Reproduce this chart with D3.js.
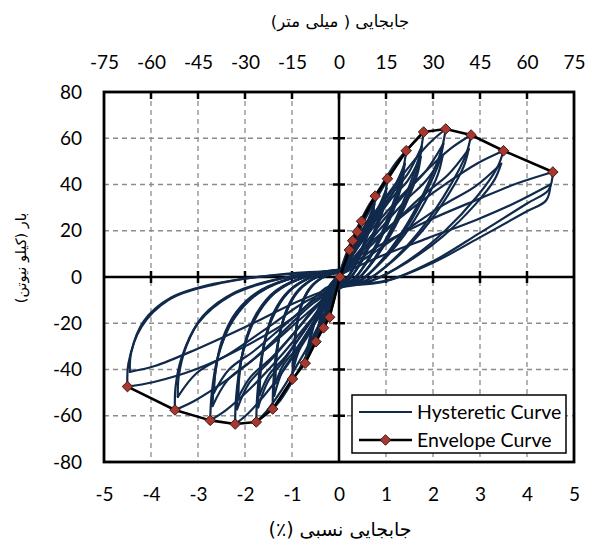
<!DOCTYPE html>
<html>
<head>
<meta charset="utf-8">
<script src="https://cdn.jsdelivr.net/npm/d3@7"></script>
<style>
  body { margin: 0; background: #fff; }
  svg { display: block; }
  .tick text { font-family: Lato, "Open Sans", sans-serif; font-size: 19px; fill: #000; }
  .fa { font-family: "DejaVu Sans", sans-serif; direction: rtl; unicode-bidi: embed; }
</style>
</head>
<body>
<svg id="chart" width="594" height="552"></svg>
<script>
// envelope curve: drift (%) and load (kN)
const envDrift = [-4.50, -3.49, -2.74, -2.21, -1.76, -1.41, -0.99, -0.72, -0.49, -0.33, -0.20, 0.02,
                  0.22, 0.29, 0.39, 0.48, 0.77, 1.03, 1.43, 1.80, 2.27, 2.81, 3.50, 4.55];
const envLoad  = [-47.4, -57.5, -62.0, -63.6, -62.7, -57.1, -44.1, -37.3, -28.0, -22.0, -17.4, 0.0,
                  11.7, 15.7, 19.6, 24.1, 35.0, 42.5, 54.6, 62.7, 64.0, 61.4, 54.6, 45.4];

// hysteretic cycles as [drift, load] pairs
const cycles = [
  [[0,0],[0.11,6],[0.22,11.7],[0.15,6.4],[0.07,1.8],[0,-0.5],[-0.1,-9.5],[-0.21,-17.2],[-0.15,-8.6],[-0.06,-2],[0,0.3]],
  [[0,0],[0.11,5],[0.21,10.5],[0.14,5.6],[0.06,1.4],[0,-0.4],[-0.1,-8],[-0.2,-15.5],[-0.14,-7.5],[-0.05,-1.6],[0,0.3]],
  [[0,0],[0.15,8],[0.29,15.7],[0.2,8.6],[0.09,2.4],[0,-0.6],[-0.16,-11.8],[-0.32,-21.5],[-0.22,-10.8],[-0.1,-2.6],[0,0.4]],
  [[0,0],[0.14,7],[0.28,14],[0.19,7.6],[0.08,2],[0,-0.5],[-0.15,-10],[-0.31,-19.4],[-0.21,-9.5],[-0.09,-2.2],[0,0.4]],
  [[0,0.2],[0.2,10],[0.39,19.6],[0.27,10.8],[0.12,2.9],[0,-0.8],[-0.24,-15],[-0.49,-28],[-0.34,-14],[-0.15,-3.4],[0,0.6]],
  [[0,0.2],[0.19,8.6],[0.38,17.6],[0.26,9.5],[0.11,2.5],[0,-0.7],[-0.23,-12.8],[-0.48,-25.2],[-0.33,-12.3],[-0.14,-3],[0,0.5]],
  [[0,0.3],[0.24,12.5],[0.48,24.1],[0.34,13.3],[0.14,3.6],[0,-1],[-0.36,-20.5],[-0.72,-37.3],[-0.5,-18.7],[-0.22,-4.5],[0,0.8]],
  [[0,0.3],[0.23,10.6],[0.47,21.7],[0.33,11.7],[0.13,3.1],[0,-0.9],[-0.35,-17.5],[-0.7,-33.6],[-0.49,-16.5],[-0.21,-3.9],[0,0.7]],
  [[0,0.7],[0.15,9.8],[0.32,18.2],[0.5,25.9],[0.65,31.5],[0.77,35],[0.74,30.1],[0.65,22.4],[0.49,12.6],[0.32,4.6],[0.15,-1],[0,-2.8],
   [-0.2,-12.3],[-0.44,-23.8],[-0.67,-34],[-0.87,-41],[-0.99,-44.1],[-0.98,-36.2],[-0.93,-24.7],[-0.81,-13.2],[-0.61,-4.9],[-0.3,0.4],[0,2.2]],
  [[0,0.6],[0.15,6.3],[0.32,13.2],[0.49,20.2],[0.63,25.2],[0.75,31.5],[0.72,27.1],[0.63,20.2],[0.48,11.3],[0.32,4.1],[0.15,-0.9],[0,-2.5],
   [-0.19,-7.9],[-0.43,-16.7],[-0.66,-25.4],[-0.85,-31.8],[-0.97,-39.7],[-0.96,-32.6],[-0.91,-22.2],[-0.8,-11.9],[-0.6,-4.4],[-0.29,0.4],[0,2]],
  [[0,0.5],[0.15,6.5],[0.31,12.8],[0.48,19.5],[0.62,24.4],[0.74,29],[0.71,25],[0.62,18.6],[0.47,10.4],[0.31,3.8],[0.15,-0.8],[0,-2.3],
   [-0.19,-8.3],[-0.42,-16.6],[-0.65,-24.5],[-0.84,-30.2],[-0.95,-36],[-0.94,-29.5],[-0.89,-20.2],[-0.78,-10.8],[-0.59,-4],[-0.28,0.4],[0,1.8]],
  [[0,0.9],[0.21,11.9],[0.43,22.1],[0.67,31.5],[0.87,38.3],[1.03,42.5],[0.99,36.6],[0.87,27.2],[0.66,15.3],[0.43,5.5],[0.21,-1.3],[0,-3.4],
   [-0.28,-16],[-0.62,-30.8],[-0.96,-44],[-1.24,-53.1],[-1.41,-57.1],[-1.4,-46.8],[-1.33,-32],[-1.16,-17.1],[-0.87,-6.3],[-0.42,0.6],[0,2.9]],
  [[0,0.8],[0.2,7.7],[0.42,16.1],[0.66,24.5],[0.85,30.6],[1.01,38.3],[0.97,32.9],[0.85,24.5],[0.65,13.8],[0.42,5],[0.2,-1.1],[0,-3.1],
   [-0.28,-10.3],[-0.61,-21.6],[-0.94,-32.9],[-1.21,-41.1],[-1.38,-51.4],[-1.37,-42.1],[-1.3,-28.8],[-1.13,-15.4],[-0.86,-5.7],[-0.41,0.5],[0,2.6]],
  [[0,0.7],[0.2,7.7],[0.42,15.4],[0.64,23.1],[0.83,28.7],[0.99,35],[0.95,30.1],[0.83,22.4],[0.63,12.6],[0.42,4.6],[0.2,-1],[0,-2.8],
   [-0.27,-10.6],[-0.59,-21.2],[-0.92,-31.3],[-1.19,-38.2],[-1.35,-46],[-1.34,-37.7],[-1.27,-25.8],[-1.11,-13.8],[-0.84,-5.1],[-0.4,0.5],[0,2.3]],
  [[0,1.1],[0.29,15.3],[0.6,28.4],[0.93,40.4],[1.2,49.1],[1.43,54.6],[1.37,47],[1.2,34.9],[0.92,19.7],[0.6,7.1],[0.29,-1.6],[0,-4.4],
   [-0.35,-17.6],[-0.77,-33.9],[-1.2,-48.3],[-1.55,-58.3],[-1.76,-62.7],[-1.74,-51.4],[-1.65,-35.1],[-1.44,-18.8],[-1.09,-6.9],[-0.53,0.6],[0,3.1]],
  [[0,1],[0.28,9.8],[0.59,20.6],[0.91,31.4],[1.18,39.2],[1.4,49],[1.34,42.1],[1.18,31.4],[0.9,17.6],[0.59,6.4],[0.28,-1.5],[0,-3.9],
   [-0.34,-11.3],[-0.76,-23.7],[-1.17,-36.1],[-1.51,-45.1],[-1.72,-56.4],[-1.7,-46.2],[-1.62,-31.6],[-1.41,-16.9],[-1.07,-6.2],[-0.52,0.6],[0,2.8]],
  [[0,0.9],[0.28,9.9],[0.58,19.8],[0.9,29.7],[1.16,36.9],[1.38,45],[1.32,38.7],[1.16,28.8],[0.88,16.2],[0.58,5.9],[0.28,-1.4],[0,-3.6],
   [-0.34,-11.7],[-0.74,-23.5],[-1.15,-34.7],[-1.49,-42.3],[-1.69,-51],[-1.67,-41.8],[-1.59,-28.6],[-1.39,-15.3],[-1.05,-5.6],[-0.51,0.5],[0,2.6]],
  [[0,1.3],[0.36,17.6],[0.76,32.6],[1.17,46.4],[1.51,56.4],[1.8,62.7],[1.73,53.9],[1.51,40.1],[1.15,22.6],[0.76,8.2],[0.36,-1.9],[0,-5],
   [-0.44,-17.8],[-0.97,-34.3],[-1.5,-49],[-1.94,-59.1],[-2.21,-63.6],[-2.19,-52.2],[-2.08,-35.6],[-1.81,-19.1],[-1.37,-7],[-0.66,0.6],[0,3.2]],
  [[0,1.1],[0.35,11.3],[0.74,23.7],[1.14,36.1],[1.48,45.1],[1.76,56.4],[1.69,48.5],[1.48,36.1],[1.13,20.3],[0.74,7.3],[0.35,-1.7],[0,-4.5],
   [-0.43,-11.4],[-0.95,-24],[-1.48,-36.6],[-1.91,-45.8],[-2.17,-57.2],[-2.15,-46.9],[-2.04,-32],[-1.78,-17.2],[-1.35,-6.3],[-0.65,0.6],[0,2.9]],
  [[0,1],[0.35,11.4],[0.73,22.9],[1.13,34.3],[1.46,41.6],[1.74,52],[1.67,44.7],[1.46,33.3],[1.11,18.7],[0.73,6.8],[0.35,-1.6],[0,-4.2],
   [-0.43,-12],[-0.94,-23.9],[-1.46,-35.4],[-1.88,-43.2],[-2.14,-52],[-2.12,-42.6],[-2.01,-29.1],[-1.75,-15.6],[-1.33,-5.7],[-0.64,0.5],[0,2.6]],
  [[0,1.3],[0.45,17.9],[0.95,33.3],[1.48,47.4],[1.91,57.6],[2.27,64],[2.18,55],[1.91,41],[1.45,23],[0.95,8.3],[0.45,-1.9],[0,-5.1],
   [-0.55,-17.4],[-1.21,-33.5],[-1.86,-47.7],[-2.41,-57.7],[-2.74,-62],[-2.71,-50.8],[-2.58,-34.7],[-2.25,-18.6],[-1.7,-6.8],[-0.82,0.6],[0,3.1]],
  [[0,1.2],[0.44,11.5],[0.93,24.2],[1.44,36.9],[1.86,46.1],[2.22,57.6],[2.13,49.5],[1.86,36.9],[1.42,20.7],[0.93,7.5],[0.44,-1.7],[0,-4.6],
   [-0.54,-11.2],[-1.18,-23.4],[-1.83,-35.7],[-2.37,-44.6],[-2.69,-55.8],[-2.66,-45.8],[-2.53,-31.2],[-2.21,-16.7],[-1.67,-6.1],[-0.81,0.6],[0,2.8]],
  [[0,1],[0.44,10.4],[0.92,21.8],[1.43,33.3],[1.85,41.6],[2.2,52],[2.11,44.7],[1.85,33.3],[1.41,18.7],[0.92,6.8],[0.44,-1.6],[0,-4.2],
   [-0.53,-10],[-1.17,-21],[-1.81,-32],[-2.34,-40],[-2.66,-50],[-2.63,-41],[-2.5,-28],[-2.18,-15],[-1.65,-5.5],[-0.8,0.5],[0,2.5]],
  [[0,1.2],[0.56,17.2],[1.18,31.9],[1.83,45.4],[2.36,55.3],[2.81,61.4],[2.7,52.8],[2.36,39.3],[1.8,22.1],[1.18,8],[0.56,-1.8],[0,-4.9],
   [-0.7,-16.1],[-1.54,-31],[-2.37,-44.3],[-3.07,-53.5],[-3.49,-57.5],[-3.48,-48],[-3.35,-35],[-3.0,-20],[-2.3,-8],[-1.2,-0.5],[0,2.9]],
  [[0,1.1],[0.55,11.1],[1.16,23.2],[1.79,35.4],[2.32,44.2],[2.76,55.3],[2.65,47.6],[2.32,35.4],[1.77,19.9],[1.16,7.2],[0.55,-1.7],[0,-4.4],
   [-0.69,-10.4],[-1.51,-21.8],[-2.33,-33.2],[-3.02,-41.4],[-3.43,-51.8],[-3.41,-43],[-3.25,-30],[-2.9,-17],[-2.2,-6.5],[-1.15,-0.3],[0,2.6]],
  [[0,1.1],[0.7,15.3],[1.47,28.4],[2.28,40.4],[2.94,49.1],[3.5,54.6],[3.36,47],[2.94,34.9],[2.24,19.7],[1.47,7.1],[0.7,-1.6],[0,-4.4],
   [-0.23,-4.2],[-0.94,-17],[-2,-30],[-3.06,-40],[-3.96,-45.5],[-4.5,-47.4],[-4.48,-37.3],[-4.2,-21.5],[-3.63,-10],[-2.7,-3.5],[-1.13,1.4],[0,2.4]],
  [[0,1],[0.69,9.8],[1.45,20.6],[2.24,31.4],[2.9,39.2],[3.45,49],[3.31,42.1],[2.9,31.4],[2.21,17.6],[1.45,6.4],[0.69,-1.5],[0,-3.9],
   [-0.89,-10.7],[-1.96,-21.3],[-3.03,-31.2],[-3.92,-38.5],[-4.45,-41],[-4.42,-32.5],[-4.15,-19],[-3.58,-9],[-2.67,-3],[-1.11,1.2],[0,2]],
  [[0,0.9],[0.86,13.6],[1.91,24.5],[2.96,33.6],[3.78,40.4],[4.55,45.4],[4.46,37.7],[4.0,31.8],[3.0,19.1],[2.0,6.8],[1.0,-1.8],[0,-3.6]],
  [[0,0.8],[0.86,8.8],[1.89,16.8],[2.93,24.8],[3.74,32],[4.5,40],[4.41,33.2],[3.96,28],[2.97,16.8],[1.98,6],[0.99,-1.6],[0,-3.2]]
];

const driftTicks = [-5, -4, -3, -2, -1, 0, 1, 2, 3, 4, 5];
const mmTicks = [-75, -60, -45, -30, -15, 0, 15, 30, 45, 60, 75];
const loadTicks = [-80, -60, -40, -20, 0, 20, 40, 60, 80];
const legendLabels = ["Hysteretic Curve", "Envelope Curve"];

const svg = d3.select("#chart");
const plotL = 104, plotR = 574, plotT = 92, plotB = 462;

const x = d3.scaleLinear().domain([-5, 5]).range([plotL, plotR]);
const xTop = d3.scaleLinear().domain([-75, 75]).range([plotL, plotR]);
const y = d3.scaleLinear().domain([-80, 80]).range([plotB, plotT]);

svg.append("clipPath").attr("id", "plot")
  .append("rect").attr("x", plotL).attr("y", plotT).attr("width", plotR - plotL).attr("height", plotB - plotT);

// dashed grid
const grid = svg.append("g").attr("stroke", "#8c8c8c").attr("stroke-width", 1.3).attr("stroke-dasharray", "5,4");
grid.selectAll(".gx").data(driftTicks.slice(1, -1).filter(d => d !== 0)).enter().append("line")
  .attr("x1", d => x(d)).attr("x2", d => x(d)).attr("y1", plotT).attr("y2", plotB);
grid.selectAll(".gy").data(loadTicks.slice(1, -1).filter(d => d !== 0)).enter().append("line")
  .attr("y1", d => y(d)).attr("y2", d => y(d)).attr("x1", plotL).attr("x2", plotR);

// zero axes with crossing ticks
const zero = svg.append("g").attr("stroke", "#000").attr("stroke-width", 2.5);
zero.append("line").attr("x1", x(0)).attr("x2", x(0)).attr("y1", plotT).attr("y2", plotB);
zero.append("line").attr("x1", plotL).attr("x2", plotR).attr("y1", y(0)).attr("y2", y(0));
zero.selectAll(".tx").data(driftTicks.slice(1, -1)).enter().append("line")
  .attr("x1", d => x(d)).attr("x2", d => x(d)).attr("y1", y(0) - 6).attr("y2", y(0) + 6);
zero.selectAll(".ty").data(loadTicks.slice(1, -1)).enter().append("line")
  .attr("y1", d => y(d)).attr("y2", d => y(d)).attr("x1", x(0) - 6).attr("x2", x(0) + 6);
zero.selectAll(".tt").data(mmTicks.slice(1, -1)).enter().append("line")
  .attr("x1", d => xTop(d)).attr("x2", d => xTop(d)).attr("y1", plotT).attr("y2", plotT + 7);

// hysteretic loops: split each cycle at its load reversals so the peaks stay sharp
const branches = [];
cycles.forEach(c => {
  let start = 0;
  for (let i = 1; i < c.length - 1; i++) {
    if ((c[i][0] - c[i - 1][0]) * (c[i + 1][0] - c[i][0]) < 0) {
      branches.push(c.slice(start, i + 1));
      start = i;
    }
  }
  branches.push(c.slice(start));
});
const line = d3.line().x(d => x(d[0])).y(d => y(d[1])).curve(d3.curveCatmullRom.alpha(0.5));
svg.append("g").attr("clip-path", "url(#plot)")
  .selectAll("path").data(branches).enter().append("path")
  .attr("d", line)
  .attr("fill", "none").attr("stroke", "#112a4b").attr("stroke-width", 2.2)
  .attr("stroke-linejoin", "round").attr("stroke-linecap", "round");

// envelope
const env = envDrift.map((d, i) => [d, envLoad[i]]);
svg.append("path").datum(env)
  .attr("d", d3.line().x(d => x(d[0])).y(d => y(d[1])))
  .attr("fill", "none").attr("stroke", "#000").attr("stroke-width", 2.6).attr("stroke-linejoin", "round");
const diamond = d3.symbol(d3.symbolSquare, 56);
svg.append("g").selectAll("path").data(env).enter().append("path")
  .attr("d", diamond)
  .attr("transform", d => `translate(${x(d[0])},${y(d[1])}) rotate(45)`)
  .attr("fill", "#a8382f").attr("stroke", "#3b1410").attr("stroke-width", 0.9);

// border
svg.append("rect").attr("x", plotL).attr("y", plotT).attr("width", plotR - plotL).attr("height", plotB - plotT)
  .attr("fill", "none").attr("stroke", "#000").attr("stroke-width", 2.8);

// tick labels
const fmt = d => String(d);
svg.append("g").attr("transform", `translate(0,${plotB})`)
  .call(d3.axisBottom(x).tickValues(driftTicks).tickFormat(fmt).tickSize(0).tickPadding(26))
  .call(g => g.select(".domain").remove());
svg.append("g").attr("transform", `translate(0,${plotT})`)
  .call(d3.axisTop(xTop).tickValues(mmTicks).tickFormat(fmt).tickSize(0).tickPadding(23))
  .call(g => g.select(".domain").remove());
svg.append("g").attr("transform", `translate(${plotL},0)`)
  .call(d3.axisLeft(y).tickValues(loadTicks).tickFormat(fmt).tickSize(0).tickPadding(22))
  .call(g => g.select(".domain").remove());

// axis titles
svg.append("text").attr("class", "fa").attr("x", 340).attr("y", 27).attr("text-anchor", "middle")
  .attr("font-size", 16.5).text("جابجایی ( میلی متر)");
svg.append("text").attr("class", "fa").attr("x", 340).attr("y", 536).attr("text-anchor", "middle")
  .attr("font-size", 19).text("جابجایی نسبی (٪)");
svg.append("text").attr("class", "fa").attr("text-anchor", "middle")
  .attr("transform", "translate(26,258) rotate(-90)")
  .attr("font-size", 14.5).text("بار (کیلو نیوتن)");

// legend
const lg = svg.append("g");
lg.append("rect").attr("x", 352).attr("y", 395).attr("width", 214).attr("height", 58)
  .attr("fill", "#fff").attr("stroke", "#000").attr("stroke-width", 1.5);
lg.append("line").attr("x1", 359).attr("x2", 412).attr("y1", 412).attr("y2", 412)
  .attr("stroke", "#112a4b").attr("stroke-width", 2);
lg.append("line").attr("x1", 359).attr("x2", 412).attr("y1", 440).attr("y2", 440)
  .attr("stroke", "#000").attr("stroke-width", 2.6);
lg.append("path").attr("d", diamond).attr("transform", "translate(385.5,440) rotate(45)")
  .attr("fill", "#a8382f").attr("stroke", "#3b1410").attr("stroke-width", 0.9);
lg.selectAll("text").data(legendLabels).enter().append("text")
  .attr("x", 417).attr("y", (d, i) => 419 + i * 28)
  .attr("font-family", "Lato, sans-serif").attr("font-size", 19.5)
  .text(d => d);
</script>
</body>
</html>
